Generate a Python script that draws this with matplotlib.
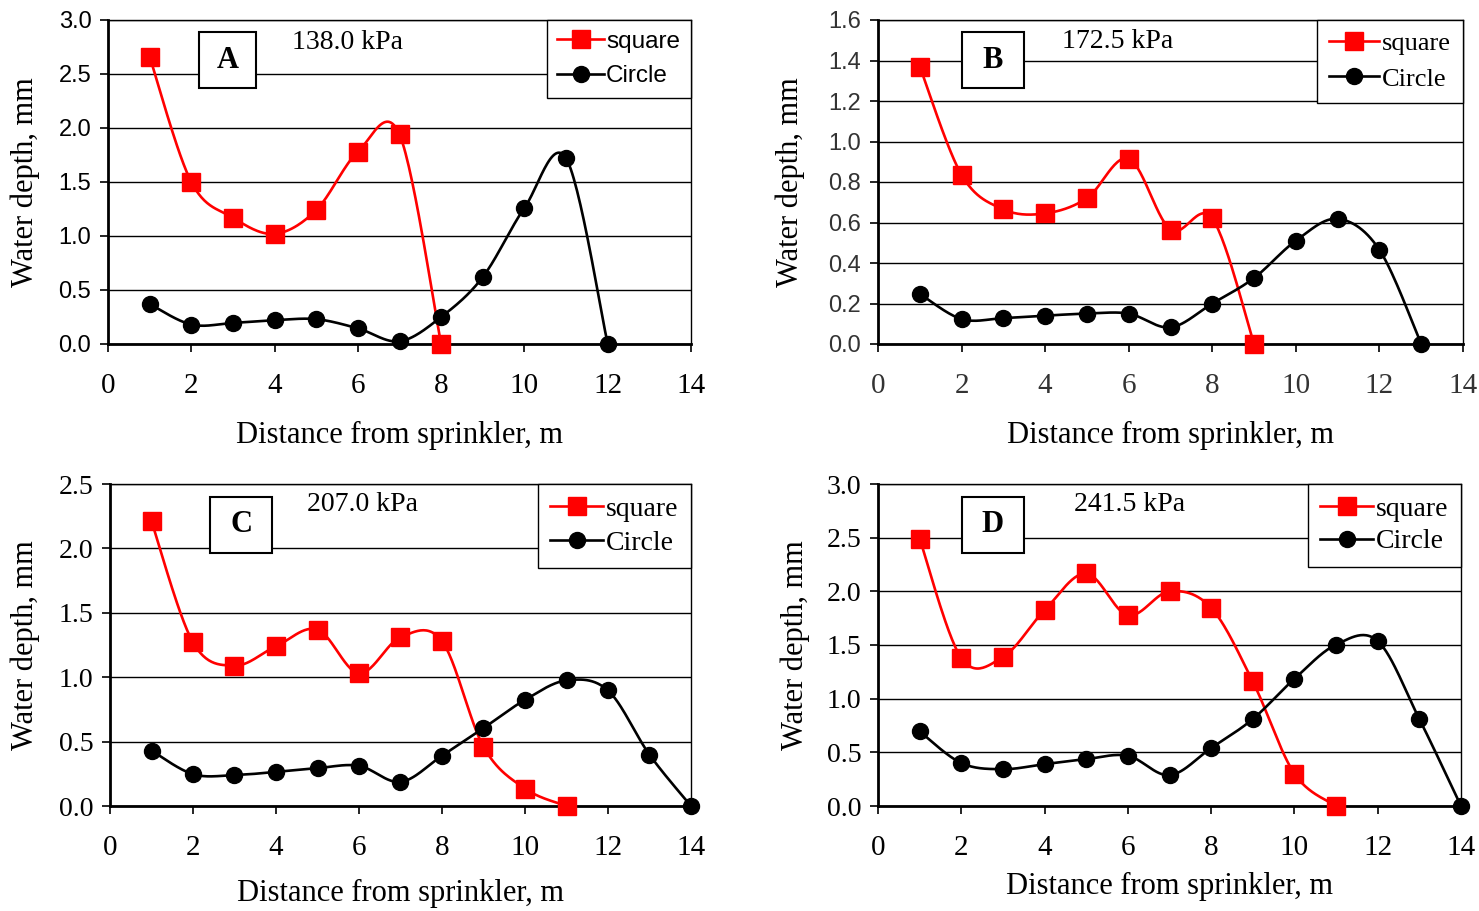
import numpy as np
import matplotlib
matplotlib.use("Agg")
import matplotlib.pyplot as plt
from matplotlib.patches import Rectangle

SERIF = "Liberation Serif"
SANS = "Liberation Sans"

# Distance from sprinkler (m)
dist_square_A = [1, 2, 3, 4, 5, 6, 7, 8]
depth_square_A = [2.66, 1.50, 1.17, 1.02, 1.24, 1.78, 1.94, 0.0]
dist_circle_A = [1, 2, 3, 4, 5, 6, 7, 8, 9, 10, 11, 12]
depth_circle_A = [0.37, 0.18, 0.195, 0.22, 0.23, 0.145, 0.025, 0.25, 0.62, 1.26, 1.72, 0.0]

dist_square_B = [1, 2, 3, 4, 5, 6, 7, 8, 9]
depth_square_B = [1.37, 0.835, 0.665, 0.645, 0.72, 0.915, 0.565, 0.62, 0.0]
dist_circle_B = [1, 2, 3, 4, 5, 6, 7, 8, 9, 10, 11, 12, 13]
depth_circle_B = [0.248, 0.123, 0.128, 0.14, 0.15, 0.15, 0.082, 0.20, 0.326, 0.51, 0.618, 0.465, 0.0]

dist_square_C = [1, 2, 3, 4, 5, 6, 7, 8, 9, 10, 11]
depth_square_C = [2.21, 1.27, 1.09, 1.24, 1.37, 1.03, 1.31, 1.28, 0.46, 0.135, 0.0]
dist_circle_C = [1, 2, 3, 4, 5, 6, 7, 8, 9, 10, 11, 12, 13, 14]
depth_circle_C = [0.43, 0.247, 0.24, 0.265, 0.294, 0.312, 0.187, 0.39, 0.605, 0.824, 0.975, 0.897, 0.398, 0.0]

dist_square_D = [1, 2, 3, 4, 5, 6, 7, 8, 9, 10, 11]
depth_square_D = [2.49, 1.378, 1.388, 1.824, 2.167, 1.777, 2.0, 1.846, 1.16, 0.30, 0.0]
dist_circle_D = [1, 2, 3, 4, 5, 6, 7, 8, 9, 10, 11, 12, 13, 14]
depth_circle_D = [0.695, 0.40, 0.343, 0.39, 0.437, 0.468, 0.287, 0.54, 0.81, 1.185, 1.503, 1.537, 0.81, 0.0]

panel_letters = ["A", "B", "C", "D"]
pressures = ["138.0 kPa", "172.5 kPa", "207.0 kPa", "241.5 kPa"]
y_limits = [3.0, 1.6, 2.5, 3.0]
y_steps = [0.5, 0.2, 0.5, 0.5]
x_ticks = [0, 2, 4, 6, 8, 10, 12, 14]
series_names = ["square", "Circle"]


def smooth_curve(xs, ys, n=30):
    """Bezier smoothing through every point (spreadsheet-style smoothed line)."""
    p = np.column_stack([xs, ys]).astype(float)
    ext = np.vstack([p[0], p, p[-1]])
    out = [p[:1]]
    t = np.linspace(0, 1, n)[1:, None]
    for i in range(len(p) - 1):
        p0, p1 = ext[i + 1], ext[i + 2]
        c1 = p0 + (ext[i + 2] - ext[i]) / 6.0
        c2 = p1 - (ext[i + 3] - ext[i + 1]) / 6.0
        seg = ((1 - t) ** 3) * p0 + 3 * ((1 - t) ** 2) * t * c1 + 3 * (1 - t) * t ** 2 * c2 + t ** 3 * p1
        out.append(seg)
    c = np.vstack(out)
    return c[:, 0], c[:, 1]


fig = plt.figure(figsize=(14.79, 9.11), dpi=100)
W, H = 1479.0, 911.0

# axes boxes in pixels: left, right, top, bottom
boxes = [(108, 691, 20, 344), (878, 1463, 20, 344), (110, 691, 484, 806), (878, 1461, 484, 806)]

panels = [
    (dist_square_A, depth_square_A, dist_circle_A, depth_circle_A),
    (dist_square_B, depth_square_B, dist_circle_B, depth_circle_B),
    (dist_square_C, depth_square_C, dist_circle_C, depth_circle_C),
    (dist_square_D, depth_square_D, dist_circle_D, depth_circle_D),
]

ytick_font = [SANS, SANS, SERIF, SERIF]
ytick_size = [17, 17, 20, 20]
legend_font = [SANS, SERIF, SERIF, SERIF]
legend_size = [17.5, 19, 20, 20]
legend_spacing = [0.5, 0.45, 0.3, 0.25]
letter_boxes = [(0.156, 0.790, 0.098, 0.173), (0.1436, 0.790, 0.106, 0.173),
                (0.172, 0.786, 0.107, 0.174), (0.1438, 0.786, 0.106, 0.174)]
pressure_pos = [(0.41, 0.932), (0.41, 0.935), (0.435, 0.935), (0.431, 0.935)]
ylabel_x = [25, 790, 25, 795]
xlabel_y = [435, 435, 893, 886]
tick_color = ["black", "#333333", "black", "black"]

for k, (l, r, t, b) in enumerate(boxes):
    ax = fig.add_axes([l / W, (H - b) / H, (r - l) / W, (b - t) / H])
    xs_s, ys_s, xs_c, ys_c = panels[k]

    cx, cy = smooth_curve(xs_s, ys_s)
    ax.plot(cx, cy, color="#ff0000", lw=1.9, zorder=3, clip_on=False)
    ax.plot(xs_s, ys_s, ls="none", marker="s", ms=13, color="#ff0000", zorder=4, clip_on=False)
    cx, cy = smooth_curve(xs_c, ys_c)
    ax.plot(cx, cy, color="black", lw=1.9, zorder=3, clip_on=False)
    ax.plot(xs_c, ys_c, ls="none", marker="o", ms=11.5, color="black", zorder=4, clip_on=False)

    # legend proxies
    h1, = ax.plot([], [], color="#ff0000", lw=1.9, marker="s", ms=13)
    h2, = ax.plot([], [], color="black", lw=1.9, marker="o", ms=11.5)

    ax.set_xlim(0, 14)
    ax.set_ylim(0, y_limits[k])
    ax.set_xticks(x_ticks)
    yt = np.arange(0, y_limits[k] + 1e-9, y_steps[k])
    ax.set_yticks(yt)
    ax.set_yticklabels([f"{v:.1f}" for v in yt], fontfamily=ytick_font[k], fontsize=ytick_size[k],
                       color=tick_color[k])
    ax.set_xticklabels([str(v) for v in x_ticks], fontfamily=SERIF, fontsize=21,
                       color=tick_color[k])
    ax.tick_params(axis="y", direction="out", length=6, width=1.2, pad=6)
    ax.tick_params(axis="x", direction="out", length=6, width=1.2, pad=15)
    ax.grid(axis="y", color="black", lw=1.0, zorder=0)
    ax.set_axisbelow(True)
    for side in ("left", "bottom"):
        ax.spines[side].set_linewidth(2.0)
    for side in ("top", "right"):
        ax.spines[side].set_linewidth(1.0)

    # axis titles
    ax.text((ylabel_x[k] - l) / (r - l), 0.5, "Water depth, mm", rotation=90,
            transform=ax.transAxes, ha="center", va="center", fontfamily=SERIF, fontsize=22)
    ax.text(0.5, (b - xlabel_y[k]) / (b - t), "Distance from sprinkler, m",
            transform=ax.transAxes, ha="center", va="center", fontfamily=SERIF, fontsize=22)

    # panel letter box
    bx, by, bw, bh = letter_boxes[k]
    ax.add_patch(Rectangle((bx, by), bw, bh, transform=ax.transAxes, facecolor="white",
                           edgecolor="black", lw=1.5, zorder=5))
    ax.text(bx + bw / 2, by + bh / 2, panel_letters[k], transform=ax.transAxes, ha="center",
            va="center", fontfamily=SERIF, fontweight="bold", fontsize=22, zorder=6)
    px, py = pressure_pos[k]
    ax.text(px, py, pressures[k], transform=ax.transAxes, ha="center", va="center",
            fontfamily=SERIF, fontsize=20, zorder=6)

    leg = ax.legend([h1, h2], series_names, loc="upper right", bbox_to_anchor=(1, 1),
                    borderaxespad=0, fancybox=False, framealpha=1, edgecolor="black",
                    prop={"family": legend_font[k], "size": legend_size[k]}, handlelength=1.9,
                    handletextpad=0.1, borderpad=0.45, labelspacing=legend_spacing[k])
    leg.get_frame().set_linewidth(1.0)
    leg.set_zorder(7)

fig.savefig("out.png", dpi=100, facecolor="white")
